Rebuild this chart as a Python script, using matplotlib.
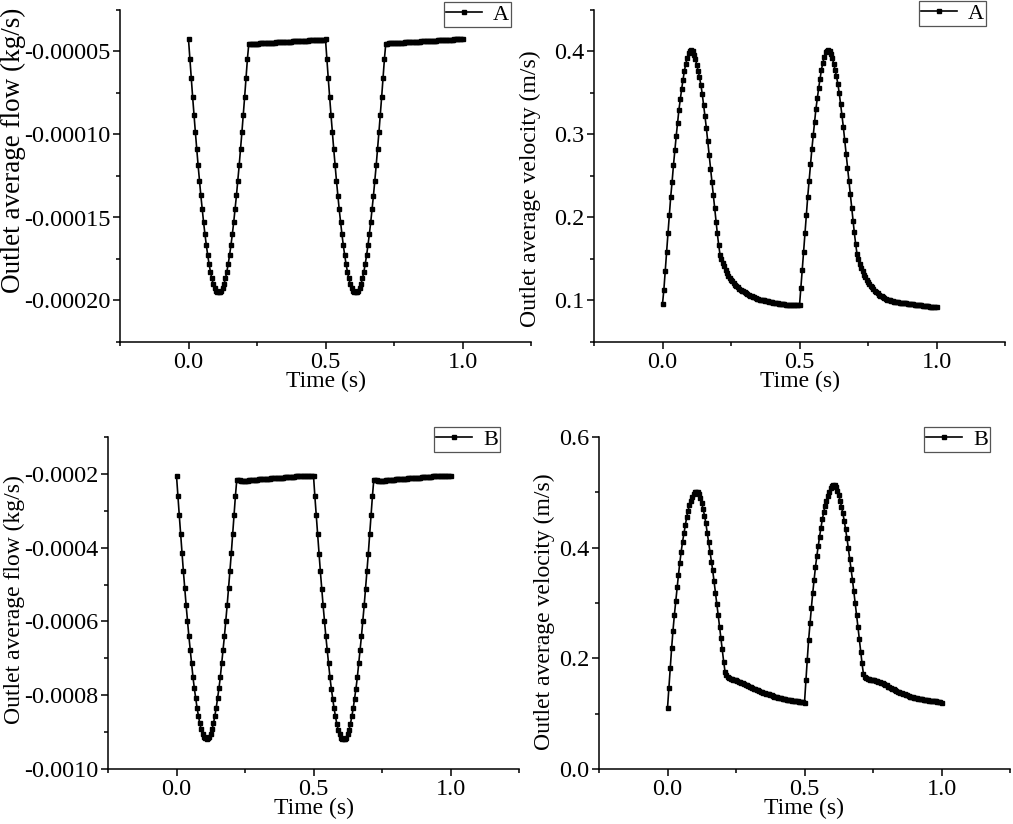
import numpy as np
import matplotlib
matplotlib.use("Agg")
import matplotlib.pyplot as plt
from matplotlib.ticker import MultipleLocator, FormatStrFormatter

plt.rcParams['font.family'] = ['Liberation Serif', 'DejaVu Serif']

# time grid: 0.005 s steps, 0 .. 1 s
time_s = np.round(np.arange(201) * 0.005, 3)

# case A, outlet average flow (x 1e-5 kg/s), rows of 10 samples (0.05 s)
flow_a_e5 = [
    -4.27, -5.45, -6.60, -7.72, -8.80, -9.85, -10.87, -11.85, -12.78, -13.67,
    -14.50, -15.28, -16.00, -16.66, -17.26, -17.79, -18.26, -18.66, -18.98, -19.23,
    -19.40, -19.49, -19.50, -19.49, -19.40, -19.23, -18.98, -18.66, -18.26, -17.79,
    -17.26, -16.66, -16.00, -15.28, -14.50, -13.67, -12.78, -11.85, -10.87, -9.85,
    -8.80, -7.72, -6.60, -5.45, -4.55, -4.55, -4.54, -4.54, -4.53, -4.53,
    -4.52, -4.52, -4.51, -4.51, -4.50, -4.50, -4.49, -4.49, -4.48, -4.48,
    -4.47, -4.47, -4.46, -4.46, -4.45, -4.45, -4.44, -4.44, -4.43, -4.43,
    -4.42, -4.42, -4.41, -4.41, -4.40, -4.40, -4.39, -4.39, -4.38, -4.38,
    -4.37, -4.37, -4.36, -4.36, -4.35, -4.35, -4.34, -4.34, -4.33, -4.33,
    -4.32, -4.32, -4.31, -4.31, -4.30, -4.30, -4.29, -4.29, -4.28, -4.28,
    -4.27, -5.46, -6.61, -7.73, -8.81, -9.86, -10.88, -11.86, -12.79, -13.68,
    -14.51, -15.29, -16.01, -16.67, -17.27, -17.80, -18.27, -18.67, -18.99, -19.24,
    -19.41, -19.50, -19.51, -19.50, -19.41, -19.24, -18.99, -18.67, -18.27, -17.80,
    -17.27, -16.67, -16.01, -15.29, -14.51, -13.68, -12.79, -11.86, -10.88, -9.86,
    -8.81, -7.73, -6.61, -5.46, -4.52, -4.52, -4.51, -4.51, -4.50, -4.50,
    -4.49, -4.49, -4.48, -4.48, -4.47, -4.47, -4.46, -4.46, -4.45, -4.45,
    -4.44, -4.44, -4.43, -4.43, -4.42, -4.42, -4.41, -4.41, -4.40, -4.40,
    -4.39, -4.39, -4.38, -4.38, -4.37, -4.37, -4.36, -4.36, -4.35, -4.35,
    -4.34, -4.34, -4.33, -4.33, -4.32, -4.32, -4.31, -4.31, -4.30, -4.30,
    -4.29, -4.29, -4.28, -4.28, -4.27, -4.27, -4.26, -4.26, -4.25, -4.25,
    -4.24,
]

# case A, outlet average velocity (m/s)
vel_a = [
    0.096, 0.113, 0.136, 0.158, 0.181, 0.203, 0.225, 0.243, 0.263, 0.281,
    0.298, 0.314, 0.330, 0.343, 0.355, 0.366, 0.377, 0.385, 0.392, 0.398,
    0.400, 0.402, 0.400, 0.396, 0.391, 0.384, 0.377, 0.369, 0.360, 0.349,
    0.336, 0.322, 0.308, 0.292, 0.275, 0.259, 0.243, 0.227, 0.211, 0.195,
    0.181, 0.167, 0.155, 0.150, 0.145, 0.141, 0.137, 0.133, 0.130, 0.127,
    0.125, 0.123, 0.121, 0.119, 0.117, 0.116, 0.114, 0.113, 0.112, 0.111,
    0.110, 0.109, 0.108, 0.107, 0.106, 0.105, 0.104, 0.104, 0.103, 0.102,
    0.102, 0.101, 0.101, 0.100, 0.100, 0.099, 0.099, 0.099, 0.098, 0.098,
    0.098, 0.097, 0.097, 0.097, 0.097, 0.096, 0.096, 0.096, 0.096, 0.096,
    0.095, 0.095, 0.095, 0.095, 0.095, 0.095, 0.094, 0.094, 0.094, 0.094,
    0.094, 0.115, 0.137, 0.159, 0.181, 0.203, 0.225, 0.244, 0.264, 0.282,
    0.299, 0.315, 0.331, 0.344, 0.356, 0.367, 0.378, 0.386, 0.393, 0.399,
    0.401, 0.402, 0.401, 0.397, 0.392, 0.385, 0.378, 0.370, 0.361, 0.350,
    0.337, 0.323, 0.309, 0.293, 0.276, 0.260, 0.244, 0.228, 0.212, 0.196,
    0.182, 0.168, 0.156, 0.150, 0.144, 0.139, 0.135, 0.131, 0.128, 0.125,
    0.122, 0.120, 0.118, 0.116, 0.114, 0.112, 0.110, 0.109, 0.107, 0.106,
    0.105, 0.104, 0.103, 0.102, 0.101, 0.100, 0.100, 0.099, 0.099, 0.098,
    0.098, 0.098, 0.098, 0.097, 0.097, 0.097, 0.097, 0.097, 0.097, 0.096,
    0.096, 0.096, 0.096, 0.096, 0.095, 0.095, 0.095, 0.094, 0.094, 0.094,
    0.093, 0.093, 0.093, 0.093, 0.093, 0.092, 0.092, 0.092, 0.092, 0.092,
    0.092,
]

# case B, outlet average flow (x 1e-4 kg/s)
flow_b_e4 = [
    -2.05, -2.60, -3.11, -3.63, -4.15, -4.63, -5.10, -5.55, -5.98, -6.39,
    -6.77, -7.13, -7.50, -7.81, -8.08, -8.34, -8.56, -8.76, -8.92, -9.05,
    -9.14, -9.17, -9.18, -9.17, -9.14, -9.05, -8.92, -8.76, -8.56, -8.34,
    -8.08, -7.81, -7.50, -7.13, -6.77, -6.39, -5.98, -5.55, -5.10, -4.63,
    -4.15, -3.63, -3.11, -2.60, -2.16, -2.17, -2.17, -2.18, -2.18, -2.18,
    -2.18, -2.18, -2.18, -2.17, -2.17, -2.17, -2.17, -2.16, -2.16, -2.16,
    -2.15, -2.15, -2.15, -2.14, -2.14, -2.14, -2.13, -2.13, -2.13, -2.12,
    -2.12, -2.12, -2.11, -2.11, -2.11, -2.10, -2.10, -2.10, -2.10, -2.09,
    -2.09, -2.09, -2.09, -2.08, -2.08, -2.08, -2.08, -2.07, -2.07, -2.07,
    -2.07, -2.07, -2.06, -2.06, -2.06, -2.06, -2.06, -2.06, -2.05, -2.05,
    -2.05, -2.61, -3.12, -3.64, -4.16, -4.64, -5.11, -5.56, -5.99, -6.40,
    -6.78, -7.14, -7.51, -7.82, -8.09, -8.35, -8.57, -8.77, -8.93, -9.06,
    -9.15, -9.18, -9.19, -9.18, -9.15, -9.06, -8.93, -8.77, -8.57, -8.35,
    -8.09, -7.82, -7.51, -7.14, -6.78, -6.40, -5.99, -5.56, -5.11, -4.64,
    -4.16, -3.64, -3.12, -2.61, -2.16, -2.17, -2.17, -2.18, -2.18, -2.18,
    -2.18, -2.18, -2.18, -2.17, -2.17, -2.17, -2.17, -2.16, -2.16, -2.16,
    -2.15, -2.15, -2.15, -2.14, -2.14, -2.14, -2.13, -2.13, -2.13, -2.12,
    -2.12, -2.12, -2.11, -2.11, -2.11, -2.10, -2.10, -2.10, -2.10, -2.09,
    -2.09, -2.09, -2.09, -2.08, -2.08, -2.08, -2.08, -2.07, -2.07, -2.07,
    -2.07, -2.07, -2.06, -2.06, -2.06, -2.06, -2.06, -2.06, -2.05, -2.05,
    -2.05,
]

# case B, outlet average velocity (m/s)
vel_b = [
    0.110, 0.146, 0.182, 0.218, 0.250, 0.278, 0.303, 0.329, 0.351, 0.373,
    0.393, 0.411, 0.426, 0.441, 0.455, 0.467, 0.477, 0.485, 0.492, 0.497,
    0.500, 0.501, 0.500, 0.497, 0.489, 0.480, 0.470, 0.458, 0.444, 0.427,
    0.411, 0.393, 0.375, 0.359, 0.339, 0.318, 0.298, 0.278, 0.257, 0.236,
    0.216, 0.194, 0.176, 0.169, 0.166, 0.164, 0.163, 0.162, 0.161, 0.161,
    0.160, 0.159, 0.158, 0.157, 0.156, 0.155, 0.154, 0.152, 0.151, 0.150,
    0.149, 0.148, 0.146, 0.145, 0.144, 0.143, 0.142, 0.141, 0.140, 0.139,
    0.138, 0.137, 0.136, 0.135, 0.135, 0.134, 0.133, 0.132, 0.131, 0.131,
    0.130, 0.129, 0.129, 0.128, 0.127, 0.127, 0.126, 0.125, 0.125, 0.124,
    0.124, 0.123, 0.123, 0.122, 0.122, 0.122, 0.121, 0.121, 0.121, 0.121,
    0.120, 0.160, 0.197, 0.233, 0.263, 0.291, 0.318, 0.342, 0.365, 0.385,
    0.403, 0.420, 0.436, 0.451, 0.464, 0.476, 0.485, 0.494, 0.501, 0.508,
    0.512, 0.514, 0.513, 0.509, 0.503, 0.495, 0.485, 0.474, 0.462, 0.449,
    0.433, 0.417, 0.399, 0.380, 0.361, 0.342, 0.321, 0.300, 0.278, 0.257,
    0.235, 0.212, 0.191, 0.172, 0.167, 0.164, 0.163, 0.162, 0.161, 0.161,
    0.160, 0.160, 0.159, 0.159, 0.158, 0.157, 0.156, 0.155, 0.153, 0.152,
    0.151, 0.149, 0.148, 0.146, 0.145, 0.144, 0.142, 0.141, 0.140, 0.139,
    0.138, 0.137, 0.136, 0.135, 0.134, 0.133, 0.132, 0.131, 0.131, 0.130,
    0.129, 0.129, 0.128, 0.127, 0.127, 0.126, 0.126, 0.125, 0.125, 0.124,
    0.124, 0.123, 0.123, 0.123, 0.122, 0.122, 0.122, 0.121, 0.121, 0.121,
    0.120,
]

flow_a = np.array(flow_a_e5) * 1e-5
flow_b = np.array(flow_b_e4) * 1e-4

W, H = 1013, 824
fig = plt.figure(figsize=(W / 100, H / 100), dpi=100)


def px_axes(left, top, width=411, height=332):
    return fig.add_axes([left / W, 1 - (top + height) / H, width / W, height / H])


def style_axes(ax, ylim, major, minor, yfmt, ylabel, ylabel_size, label_x, label_y):
    ax.spines['top'].set_visible(False)
    ax.spines['right'].set_visible(False)
    for s in ('left', 'bottom'):
        ax.spines[s].set_linewidth(1.1)
    ax.set_xlim(-0.25, 1.25)
    ax.set_ylim(*ylim)
    ax.xaxis.set_major_locator(MultipleLocator(0.5))
    ax.xaxis.set_minor_locator(MultipleLocator(0.25))
    ax.xaxis.set_major_formatter(FormatStrFormatter('%.1f'))
    ax.yaxis.set_major_locator(MultipleLocator(major))
    ax.yaxis.set_minor_locator(MultipleLocator(minor))
    ax.yaxis.set_major_formatter(FormatStrFormatter(yfmt))
    ax.tick_params(which='major', direction='out', length=5, width=1.1,
                   labelsize=17.5, pad=2)
    ax.tick_params(which='minor', direction='out', length=3, width=1.1)
    ax.set_xlabel('Time (s)', fontsize=17)
    ax.xaxis.set_label_coords(0.5, -0.088)
    ax.set_ylabel(ylabel, fontsize=ylabel_size)
    ax.yaxis.set_label_coords(label_x, label_y)


def draw(ax, y, label, leg_right, leg_top):
    ax.plot(time_s, y, color='black', linewidth=1.2, marker='s',
            markersize=2.2, label=label)
    leg = ax.legend(loc='upper right', bbox_to_anchor=(leg_right / W, 1 - leg_top / H),
                    bbox_transform=fig.transFigure, borderaxespad=0,
                    fontsize=16, handlelength=1.6, handletextpad=0.5,
                    borderpad=0.1, fancybox=False, framealpha=1)
    leg.get_frame().set_edgecolor('#555555')
    leg.get_frame().set_linewidth(0.9)


ax_tl = px_axes(120, 10)
draw(ax_tl, flow_a, 'A', 511, 2)
style_axes(ax_tl, (-0.000225, -0.000025), 0.00005, 0.000025, '%.5f',
           'Outlet average flow (kg/s)', 19.5, -0.228, 0.578)

ax_tr = px_axes(594, 10)
draw(ax_tr, vel_a, 'A', 986, 1)
style_axes(ax_tr, (0.05, 0.45), 0.1, 0.05, '%.1f',
           'Outlet average velocity (m/s)', 17, -0.128, 0.461)

ax_bl = px_axes(108, 437)
draw(ax_bl, flow_b, 'B', 500, 427)
style_axes(ax_bl, (-0.0010, -0.0001), 0.0002, 0.0001, '%.4f',
           'Outlet average flow (kg/s)', 17, -0.202, 0.509)

ax_br = px_axes(599, 437)
draw(ax_br, vel_b, 'B', 990, 427)
style_axes(ax_br, (0.0, 0.6), 0.2, 0.1, '%.1f',
           'Outlet average velocity (m/s)', 17, -0.108, 0.473)

fig.savefig('out.png', dpi=100)
